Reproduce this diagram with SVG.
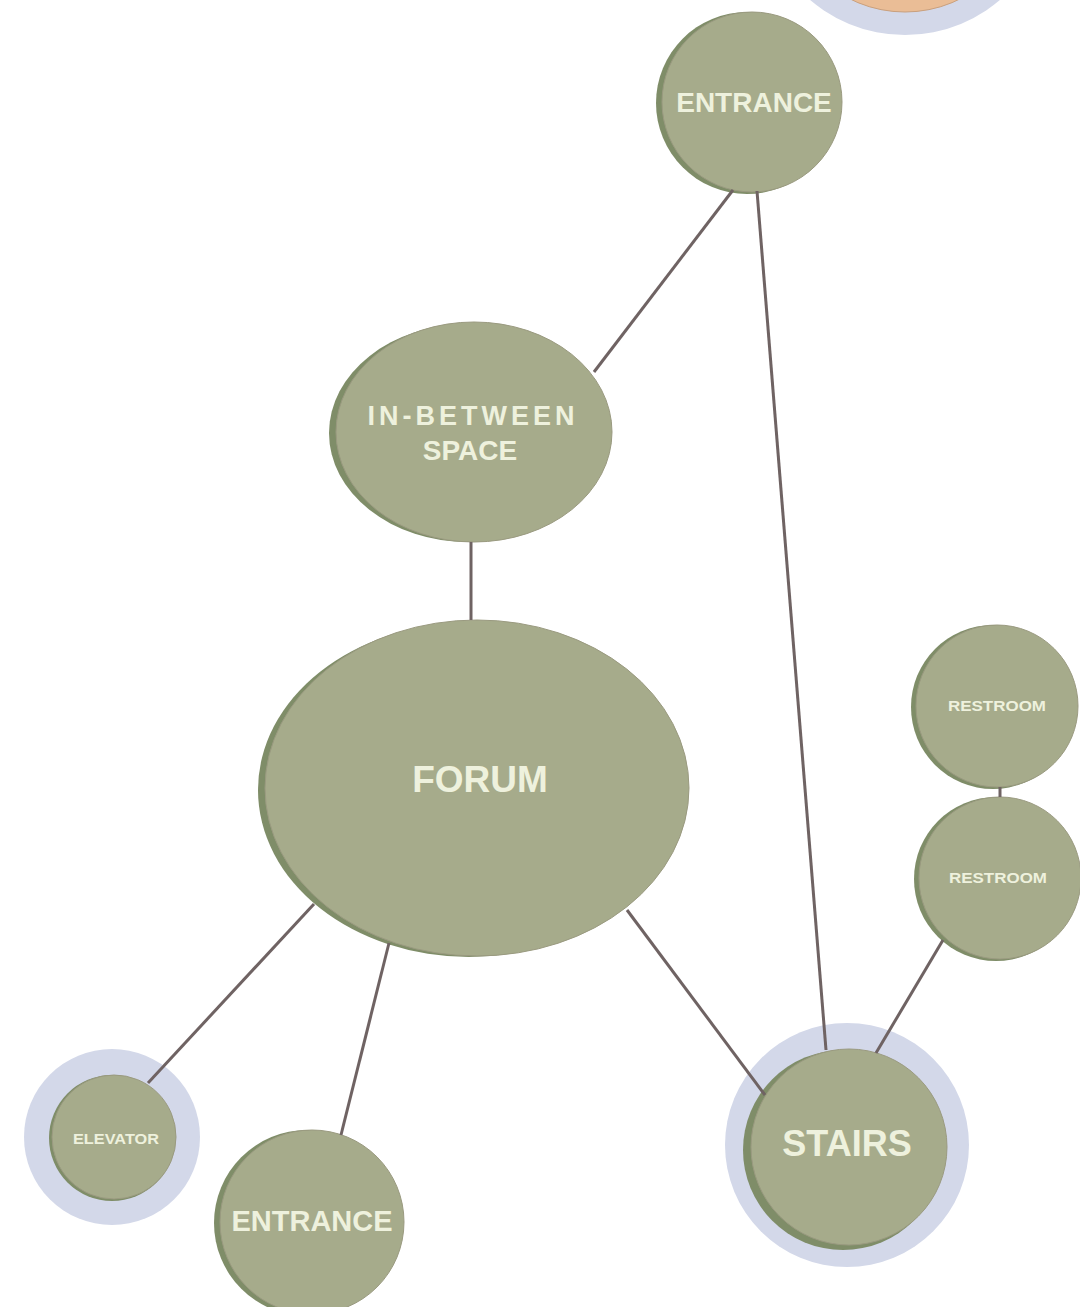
<svg xmlns="http://www.w3.org/2000/svg" width="1080" height="1307" viewBox="0 0 1080 1307">
<style>
.ring{fill:#d3d8e9}
.sh{fill:#7f8d68}
.bd{fill:#a6ab8b;stroke:#9a9a80;stroke-width:1}
.lbl{font-family:"Liberation Sans",Arial,sans-serif;font-weight:bold;fill:#eef1dd;text-anchor:middle}
.con line{stroke:#6f6363;stroke-width:3;stroke-linecap:butt}
</style>
<rect width="1080" height="1307" fill="#ffffff"/>
<g id="node-top">
<circle class="ring" cx="905" cy="-111" r="146"/>
<circle cx="905" cy="-111" r="123" fill="#eabd96" stroke="#c9a07e" stroke-width="1"/>
</g>
<g id="node-entrance-top">
<circle class="sh" cx="747" cy="103" r="91"/>
<circle class="bd" cx="752" cy="102" r="90"/>
<text class="lbl" x="754" y="112" font-size="28">ENTRANCE</text>
</g>
<g id="node-inbetween">
<ellipse class="sh" cx="468" cy="433" rx="139" ry="109"/>
<ellipse class="bd" cx="474" cy="432" rx="138" ry="110"/>
<text class="lbl" x="473" y="425" font-size="27" letter-spacing="4">IN-BETWEEN</text>
<text class="lbl" x="470" y="460" font-size="28">SPACE</text>
</g>
<g id="node-forum">
<ellipse class="sh" cx="469" cy="790" rx="211" ry="167"/>
<ellipse class="bd" cx="477" cy="788" rx="212" ry="168"/>
<text class="lbl" x="480" y="792" font-size="37">FORUM</text>
</g>
<g id="node-restroom1">
<circle class="sh" cx="993" cy="707" r="82"/>
<circle class="bd" cx="997" cy="706" r="81"/>
<text class="lbl" x="997" y="711" font-size="15" textLength="98" lengthAdjust="spacingAndGlyphs">RESTROOM</text>
</g>
<g id="node-restroom2">
<circle class="sh" cx="996" cy="879" r="82"/>
<circle class="bd" cx="1000" cy="878" r="81"/>
<text class="lbl" x="998" y="883" font-size="15" textLength="98" lengthAdjust="spacingAndGlyphs">RESTROOM</text>
</g>
<g id="node-elevator">
<circle class="ring" cx="112" cy="1137" r="88"/>
<circle class="sh" cx="112" cy="1138" r="63"/>
<circle class="bd" cx="114" cy="1137" r="62"/>
<text class="lbl" x="116" y="1144" font-size="15" textLength="86" lengthAdjust="spacingAndGlyphs">ELEVATOR</text>
</g>
<g id="node-entrance-bottom">
<circle class="sh" cx="307" cy="1223" r="93"/>
<circle class="bd" cx="312" cy="1222" r="92"/>
<text class="lbl" x="312" y="1231" font-size="29">ENTRANCE</text>
</g>
<g id="node-stairs">
<circle class="ring" cx="847" cy="1145" r="122"/>
<circle class="sh" cx="843" cy="1150" r="100"/>
<circle class="bd" cx="849" cy="1147" r="98"/>
<text class="lbl" x="847" y="1156" font-size="36">STAIRS</text>
</g>
<g class="con" id="connectors">
<line x1="733" y1="190" x2="594" y2="372"/>
<line x1="757" y1="191" x2="826" y2="1050"/>
<line x1="471" y1="542" x2="471" y2="620"/>
<line x1="314" y1="904" x2="148" y2="1083"/>
<line x1="389" y1="943" x2="341" y2="1135"/>
<line x1="627" y1="910" x2="765" y2="1095"/>
<line x1="943" y1="940" x2="876" y2="1053"/>
<line x1="1000" y1="787" x2="1000" y2="797"/>
</g>
</svg>
